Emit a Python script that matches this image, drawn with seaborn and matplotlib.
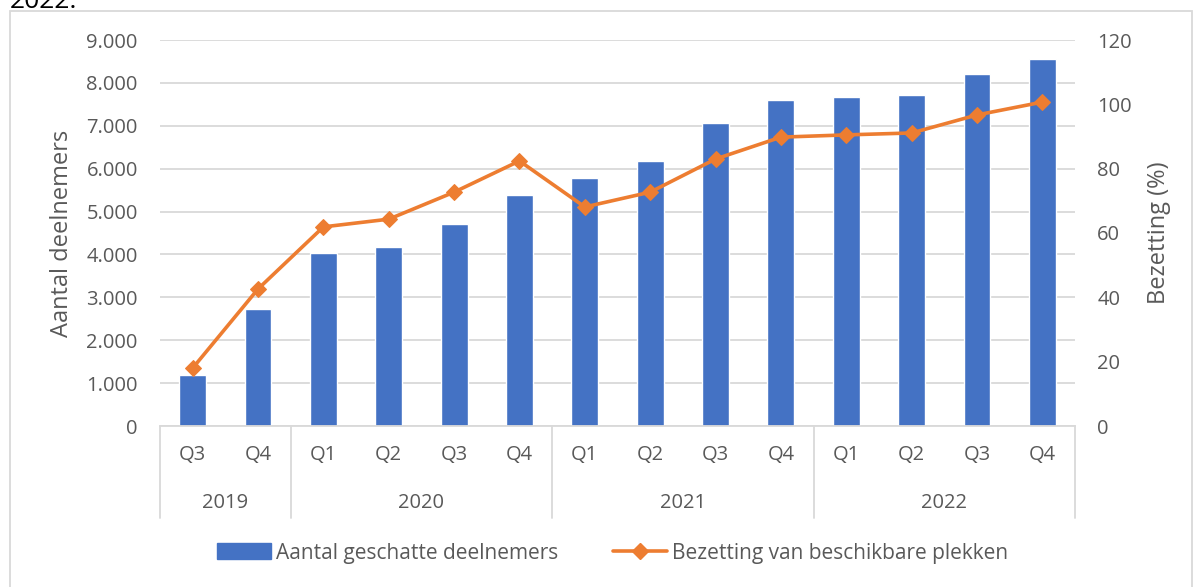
import matplotlib
matplotlib.use("Agg")
import matplotlib.pyplot as plt
import matplotlib.patches as mpatches
import matplotlib.lines as mlines
from matplotlib.ticker import FixedLocator, FixedFormatter
import seaborn as sns
import pandas as pd

years = ["2019", "2019", "2020", "2020", "2020", "2020", "2021", "2021", "2021", "2021",
         "2022", "2022", "2022", "2022"]
quarters = ["Q3", "Q4", "Q1", "Q2", "Q3", "Q4", "Q1", "Q2", "Q3", "Q4", "Q1", "Q2", "Q3", "Q4"]
deelnemers = [1180, 2730, 4030, 4170, 4710, 5380, 5780, 6170, 7060, 7600, 7670, 7720, 8200, 8560]
bezetting = [18.0, 42.6, 61.9, 64.3, 72.7, 82.4, 68.1, 72.7, 83.0, 89.8, 90.5, 91.1, 96.7, 100.7]
left_ticks = [0, 1000, 2000, 3000, 4000, 5000, 6000, 7000, 8000, 9000]
left_ticklabels = ["0", "1.000", "2.000", "3.000", "4.000", "5.000", "6.000", "7.000", "8.000", "9.000"]
right_ticks = [0, 20, 40, 60, 80, 100, 120]
year_groups = ["2019", "2020", "2021", "2022"]
bar_label = "Aantal geschatte deelnemers"
line_label = "Bezetting van beschikbare plekken"

sns.set_theme(style="white")
FONT = ["Open Sans", "DejaVu Sans"]
plt.rcParams["font.family"] = FONT
TXT = "#595959"
BLUE = "#4472C4"
ORANGE = "#ED7D31"
GRID = "#D9D9D9"
FS = 14.5

df = pd.DataFrame({"cat": [f"{y} {q}" for y, q in zip(years, quarters)],
                   "pos": list(range(len(years))),
                   "deelnemers": deelnemers, "bezetting": bezetting})

fig = plt.figure(figsize=(11.95, 5.87), dpi=100)
ax = fig.add_axes([160/1195, 1-426/587, (1075-160)/1195, (426-40)/587])

sns.barplot(data=df, x="cat", y="deelnemers", order=list(df["cat"]), color=BLUE,
            width=0.41, saturation=1, ax=ax, zorder=2)
ax.set_xlim(-0.5, len(years) - 0.5)
ax.set_ylim(0, 9000)
ax.yaxis.set_major_locator(FixedLocator(left_ticks))
ax.yaxis.set_major_formatter(FixedFormatter(left_ticklabels))
ax.grid(axis="y", color=GRID, linewidth=1.3, zorder=0)
ax.set_axisbelow(True)
for s in ["top", "right", "left"]:
    ax.spines[s].set_visible(False)
ax.spines["bottom"].set_color(GRID)
ax.spines["bottom"].set_linewidth(1.3)
ax.set_xticks(range(len(quarters)))
ax.set_xticklabels(quarters)
ax.tick_params(axis="x", length=0, pad=14, labelsize=FS, labelcolor=TXT)
ax.tick_params(axis="y", length=0, pad=16, labelsize=FS, labelcolor=TXT)
ax.set_xlabel("")
ax.set_ylabel("Aantal deelnemers", fontsize=17, color=TXT, labelpad=9)

ax2 = ax.twinx()
sns.lineplot(data=df, x="pos", y="bezetting", color=ORANGE, linewidth=2.6, marker="D",
             markersize=8, markeredgecolor=ORANGE, ax=ax2, zorder=3)
ax2.set_ylim(0, 120)
ax2.set_xlim(-0.5, len(years) - 0.5)
ax2.set_yticks(right_ticks)
ax2.tick_params(axis="y", length=0, pad=16, labelsize=FS, labelcolor=TXT)
for s in ["top", "right", "left", "bottom"]:
    ax2.spines[s].set_visible(False)
ax2.grid(False)
ax2.set_xlabel("")
ax2.set_ylabel("Bezetting (%)", fontsize=17, color=TXT, labelpad=11)

# multi-level category axis
trans = ax.get_xaxis_transform()
ybot = -(518 - 426) / 386
bounds = [-0.5]
for i in range(1, len(years)):
    if years[i] != years[i - 1]:
        bounds.append(i - 0.5)
bounds.append(len(years) - 0.5)
for b in bounds:
    ax.plot([b, b], [0, ybot], transform=trans, color=GRID, linewidth=1.3, clip_on=False)
for g, (a, b) in zip(year_groups, zip(bounds[:-1], bounds[1:])):
    ax.text((a + b) / 2, -(503 - 426) / 386, g, transform=trans, ha="center", va="center",
            fontsize=FS, color=TXT)

# legend
h1 = mpatches.Patch(color=BLUE, label=bar_label)
h2 = mlines.Line2D([], [], color=ORANGE, linewidth=2.6, marker="D", markersize=8, label=line_label)
fig.legend(handles=[h1, h2], loc="center", bbox_to_anchor=(612.5/1195, 1 - 553/587), ncol=2,
           frameon=False, fontsize=15, labelcolor=TXT, handlelength=2.6, handletextpad=0.25,
           columnspacing=2.6, handleheight=0.8)

# chart border and cropped title fragment
fig.patches.append(mpatches.Rectangle((10/1195, -0.02), (1192-10)/1195, 1.02 - 11/587,
                                      transform=fig.transFigure, fill=False,
                                      edgecolor=GRID, linewidth=1.3))
fig.text(10/1195, 1 - 8/587, "2022.", fontsize=19, color="black", ha="left", va="baseline")

fig.savefig("out.png", dpi=100)
